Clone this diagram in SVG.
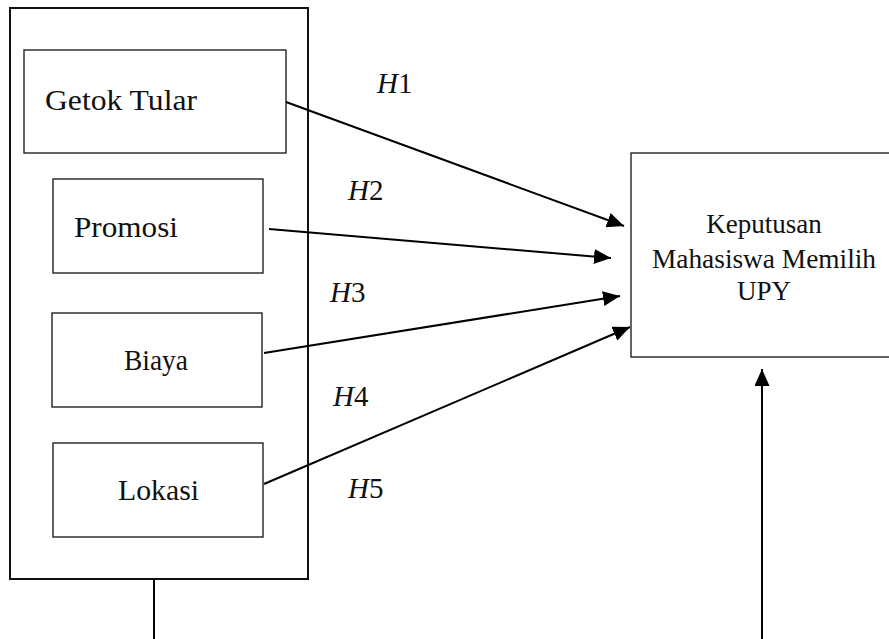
<svg xmlns="http://www.w3.org/2000/svg" width="889" height="639" viewBox="0 0 889 639">
<style>
.box{fill:#fff;stroke:#222;stroke-width:1.4}
.outer{fill:none;stroke:#111;stroke-width:2}
.lbl{font-family:"Liberation Serif","Times New Roman",serif;font-size:30px;fill:#111}
.tgt{font-family:"Liberation Serif","Times New Roman",serif;font-size:27px;fill:#111;text-anchor:middle}
.h{font-family:"Liberation Serif","Times New Roman",serif;font-size:29px;fill:#111}
.conn{stroke:#000;stroke-width:2;fill:none}
</style>
<defs>
<marker id="arr" markerUnits="userSpaceOnUse" markerWidth="18" markerHeight="16" refX="17" refY="7.5" orient="auto">
<path d="M0,0 L17,7.5 L0,15 z" fill="#000"/>
</marker>
</defs>
<rect width="889" height="639" fill="#fff"/>
<g id="outer-group">
<rect class="outer" x="10" y="8" width="298" height="571"/>
</g>
<g id="getok-tular">
<rect class="box" x="24" y="50" width="262" height="103"/>
<text class="lbl" x="45" y="110" textLength="152" lengthAdjust="spacingAndGlyphs">Getok Tular</text>
</g>
<g id="promosi">
<rect class="box" x="53" y="179" width="210" height="94"/>
<text class="lbl" x="74" y="237" textLength="104" lengthAdjust="spacingAndGlyphs">Promosi</text>
</g>
<g id="biaya">
<rect class="box" x="52" y="313" width="210" height="94"/>
<text class="lbl" x="124" y="370" textLength="64" lengthAdjust="spacingAndGlyphs">Biaya</text>
</g>
<g id="lokasi">
<rect class="box" x="53" y="443" width="210" height="94"/>
<text class="lbl" x="118" y="500" textLength="81" lengthAdjust="spacingAndGlyphs">Lokasi</text>
</g>
<g id="keputusan">
<rect class="box" x="631" y="153" width="280" height="204"/>
<text class="tgt" x="764" y="233">Keputusan</text>
<text class="tgt" x="764" y="268" textLength="224" lengthAdjust="spacingAndGlyphs">Mahasiswa Memilih</text>
<text class="tgt" x="764" y="300">UPY</text>
</g>
<g id="connectors">
<line class="conn" x1="286" y1="102" x2="624" y2="226" marker-end="url(#arr)"/>
<line class="conn" x1="269" y1="229" x2="611" y2="258" marker-end="url(#arr)"/>
<line class="conn" x1="264" y1="353" x2="620" y2="296" marker-end="url(#arr)"/>
<line class="conn" x1="264" y1="484" x2="630" y2="327" marker-end="url(#arr)"/>
<line class="conn" x1="154" y1="579" x2="154" y2="639"/>
<line class="conn" x1="762" y1="639" x2="762" y2="369" marker-end="url(#arr)"/>
</g>
<g id="labels">
<text class="h" x="377" y="93"><tspan font-style="italic">H</tspan>1</text>
<text class="h" x="348" y="200"><tspan font-style="italic">H</tspan>2</text>
<text class="h" x="330" y="302"><tspan font-style="italic">H</tspan>3</text>
<text class="h" x="333" y="406"><tspan font-style="italic">H</tspan>4</text>
<text class="h" x="348" y="498"><tspan font-style="italic">H</tspan>5</text>
</g>
</svg>
